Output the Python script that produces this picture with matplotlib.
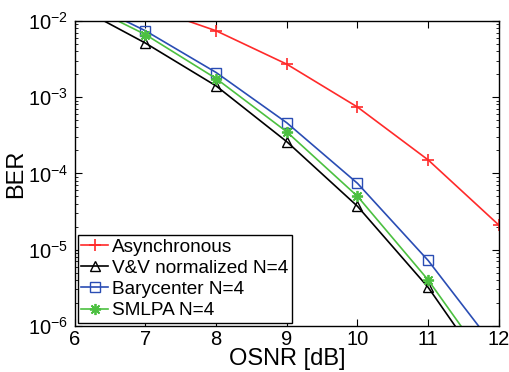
import matplotlib.pyplot as plt
from matplotlib.ticker import LogLocator, NullFormatter

plt.rcParams['font.family'] = ['Liberation Sans', 'DejaVu Sans']

osnr = [6, 7, 8, 9, 10, 11, 12]
ber_async = [4.0e-2, 1.55e-2, 7.4e-3, 2.7e-3, 7.4e-4, 1.5e-4, 2.1e-5]
ber_vv = [1.6e-2, 5.1e-3, 1.4e-3, 2.6e-4, 3.7e-5, 3.2e-6, 1.5e-7]
ber_bary = [2.1e-2, 7.4e-3, 2.1e-3, 4.6e-4, 7.4e-5, 7.2e-6, 4.5e-7]
ber_smlpa = [1.9e-2, 6.6e-3, 1.75e-3, 3.5e-4, 5.0e-5, 4.0e-6, 2.0e-7]

fig = plt.figure(figsize=(5.09, 3.72), dpi=100)
ax = fig.add_axes([0.147, 0.124, 0.833, 0.820])

ax.semilogy(osnr, ber_async, '-+', color='#ff2a2a', lw=1.2, ms=8, mew=1.2, label='Asynchronous')
ax.semilogy(osnr, ber_vv, '-^', color='black', lw=1.2, ms=7.5, mfc='none', mew=1.0, label='V&V normalized N=4')
ax.semilogy(osnr, ber_bary, '-s', color='#2a4db4', lw=1.2, ms=6.5, mfc='none', mew=1.0, label='Barycenter N=4')
ax.semilogy(osnr, ber_smlpa, '-', marker=(8, 2, 0), color='#4cc040', lw=1.2, ms=8, mew=1.3, label='SMLPA N=4')

ax.set_xlim(6, 12)
ax.set_ylim(1e-6, 1e-2)
ax.set_xticks(range(6, 13))
ax.yaxis.set_major_locator(LogLocator(base=10, numticks=10))
ax.yaxis.set_minor_locator(LogLocator(base=10, subs=range(2, 10), numticks=10))
ax.yaxis.set_minor_formatter(NullFormatter())
ax.tick_params(which='both', direction='in', top=True, right=True, labelsize=14.5)
ax.tick_params(which='major', length=5)
ax.tick_params(axis='x', which='major', pad=3)
ax.tick_params(axis='y', which='major', pad=5)
ax.tick_params(which='minor', length=2.5)
for s in ax.spines.values():
    s.set_linewidth(1.0)

ax.set_xlabel('OSNR [dB]', fontsize=17, labelpad=-1)
ax.set_ylabel('BER', fontsize=17, labelpad=0)

leg = ax.legend(loc='lower left', fontsize=13.7, fancybox=False, framealpha=1,
                edgecolor='black', borderpad=0.2, handlelength=1.4,
                handletextpad=0.2, labelspacing=0.2, borderaxespad=0.15)
leg.get_frame().set_linewidth(1.0)

fig.savefig('out.png', dpi=100)
